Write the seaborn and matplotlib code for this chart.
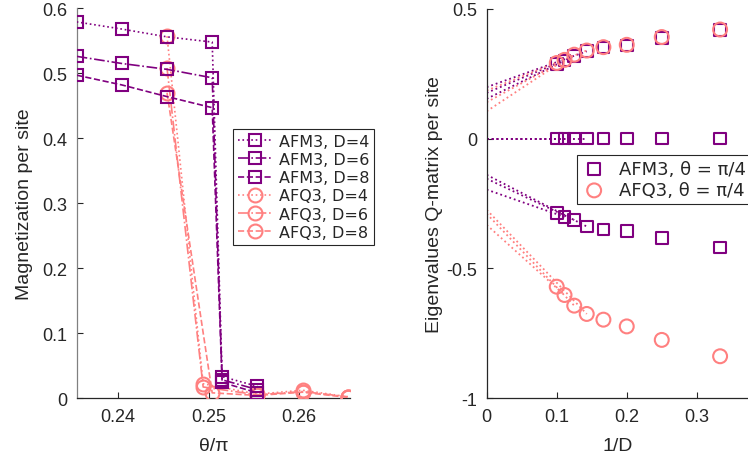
import matplotlib
matplotlib.use('Agg')
import matplotlib.pyplot as plt
import seaborn as sns

# ---- data ----
# left panel: magnetization vs theta/pi
theta_afm3 = [0.2354, 0.2404, 0.2454, 0.2504, 0.2515, 0.2554]
mag_afm3_d4 = [0.579, 0.568, 0.556, 0.548, 0.033, 0.018]
mag_afm3_d6 = [0.526, 0.515, 0.506, 0.493, 0.028, 0.013]
mag_afm3_d8 = [0.497, 0.482, 0.464, 0.447, 0.024, 0.008]

theta_afq3_d4 = [0.2454, 0.2494, 0.2554, 0.2604, 0.2654]
theta_afq3_d6 = [0.2454, 0.2494, 0.2554, 0.2604, 0.2654]
theta_afq3_d8 = [0.2454, 0.2504, 0.2554, 0.2604, 0.2654]
mag_afq3_d4 = [0.557, 0.022, 0.006, 0.012, 0.002]
mag_afq3_d6 = [0.508, 0.017, 0.005, 0.010, 0.002]
mag_afq3_d8 = [0.470, 0.008, 0.004, 0.009, 0.001]

# right panel: Q-matrix eigenvalues vs 1/D
bond_dims = [10, 9, 8, 7, 6, 5, 4, 3]
inv_d = [1 / d for d in bond_dims]
afm3_top = [0.287, 0.300, 0.318, 0.336, 0.350, 0.359, 0.388, 0.418]
afm3_mid = [0.0, 0.0, 0.0, 0.0, 0.0, 0.0, 0.0, 0.0]
afm3_bot = [-0.287, -0.302, -0.314, -0.339, -0.351, -0.357, -0.384, -0.420]
afq3_top = [0.291, 0.303, 0.323, 0.339, 0.352, 0.361, 0.391, 0.420]
afq3_bot = [-0.571, -0.603, -0.644, -0.676, -0.698, -0.724, -0.776, -0.839]

# linear extrapolations: value at 1/D = 0, and largest D-index used in fit
fit_end_idx = [3, 2, 1]
afm3_top_fit0 = [0.198, 0.176, 0.153]
afm3_mid_fit0 = [0.0, 0.0, 0.0]
afm3_bot_fit0 = [-0.140, -0.155, -0.197]
afq3_top_fit0 = [0.185, 0.140, 0.105]
afq3_bot_fit0 = [-0.275, -0.290, -0.333]

mag_ticks = [0, 0.1, 0.2, 0.3, 0.4, 0.5, 0.6]
mag_ticklabels = ['0', '0.1', '0.2', '0.3', '0.4', '0.5', '0.6']
theta_ticks = [0.24, 0.25, 0.26]
theta_ticklabels = ['0.24', '0.25', '0.26']
eig_ticks = [-1, -0.5, 0, 0.5]
eig_ticklabels = ['-1', '-0.5', '0', '0.5']
invd_ticks = [0, 0.1, 0.2, 0.3]
invd_ticklabels = ['0', '0.1', '0.2', '0.3']

purple = '#800080'
salmon = '#ff8080'

sns.set_theme(style='white')
plt.rcParams['font.family'] = ['Liberation Sans', 'DejaVu Sans']
plt.rcParams['axes.edgecolor'] = '#262626'
plt.rcParams['axes.linewidth'] = 0.9

fig = plt.figure(figsize=(7.48, 4.64), dpi=100)
ax1 = fig.add_axes([0.1025, 0.140, 0.366, 0.840])
ax2 = fig.add_axes([0.6507, 0.140, 0.351, 0.839])

# ---- left panel ----
afm_series = [(mag_afm3_d4, ':', 'AFM3, D=4'),
              (mag_afm3_d6, '-.', 'AFM3, D=6'),
              (mag_afm3_d8, '--', 'AFM3, D=8')]
afq_series = [(theta_afq3_d4, mag_afq3_d4, ':', 'AFQ3, D=4'),
              (theta_afq3_d6, mag_afq3_d6, '-.', 'AFQ3, D=6'),
              (theta_afq3_d8, mag_afq3_d8, '--', 'AFQ3, D=8')]

for vals, ls, lab in afm_series:
    sns.lineplot(x=theta_afm3, y=vals, ax=ax1, color=purple, linestyle=ls,
                 linewidth=1.2, marker='s', markersize=8.5,
                 markerfacecolor='none', markeredgecolor=purple,
                 markeredgewidth=1.5, label=lab, sort=False, zorder=4)
for xs, vals, ls, lab in afq_series:
    sns.lineplot(x=xs, y=vals, ax=ax1, color=salmon, linestyle=ls,
                 linewidth=1.2, marker='o', markersize=10,
                 markerfacecolor='none', markeredgecolor=salmon,
                 markeredgewidth=1.5, label=lab, sort=False, zorder=3)

ax1.set_xlim(0.2354, 0.2657)
ax1.set_ylim(0, 0.6)
ax1.set_xticks(theta_ticks)
ax1.set_xticklabels(theta_ticklabels)
ax1.set_yticks(mag_ticks)
ax1.set_yticklabels(mag_ticklabels)
ax1.set_xlabel('θ/π', fontsize=14, labelpad=9)
ax1.set_ylabel('Magnetization per site', fontsize=14, labelpad=6)
ax1.spines['top'].set_visible(False)
ax1.spines['right'].set_visible(False)
ax1.spines['left'].set_color('#808080')
ax1.tick_params(direction='in', length=4, width=0.8, labelsize=13,
                pad=7, colors='#262626', bottom=True, left=True)

leg1 = ax1.legend(loc='upper left', bbox_to_anchor=(233 / 748, 1 - 130 / 464),
                  bbox_transform=fig.transFigure, fancybox=False,
                  framealpha=1, edgecolor='#262626', borderaxespad=0,
                  prop={'family': 'DejaVu Sans', 'size': 11.5},
                  handlelength=2.2, handletextpad=0.35, labelspacing=0.2,
                  borderpad=0.3)
leg1.get_frame().set_linewidth(0.8)

# ---- right panel ----
fit_groups = [(afm3_top, afm3_top_fit0, purple),
              (afm3_mid, afm3_mid_fit0, purple),
              (afm3_bot, afm3_bot_fit0, purple),
              (afq3_top, afq3_top_fit0, salmon),
              (afq3_bot, afq3_bot_fit0, salmon)]
for vals, fit0, col in fit_groups:
    for c0, k in zip(fit0, fit_end_idx):
        sns.lineplot(x=[0, inv_d[k]], y=[c0, vals[k]], ax=ax2, color=col,
                     linestyle=':', linewidth=1.3, sort=False, zorder=2)

for i, vals in enumerate([afm3_top, afm3_mid, afm3_bot]):
    sns.scatterplot(x=inv_d, y=vals, ax=ax2, marker='s', s=70,
                    facecolor='none', edgecolor=purple, linewidth=1.5,
                    label='AFM3, θ = π/4' if i == 0 else None, zorder=3)
for i, vals in enumerate([afq3_top, afq3_bot]):
    sns.scatterplot(x=inv_d, y=vals, ax=ax2, marker='o', s=100,
                    facecolor='none', edgecolor=salmon, linewidth=1.5,
                    label='AFQ3, θ = π/4' if i == 0 else None, zorder=4)

ax2.set_xlim(0, 0.375)
ax2.set_ylim(-1, 0.5)
ax2.set_xticks(invd_ticks)
ax2.set_xticklabels(invd_ticklabels)
ax2.set_yticks(eig_ticks)
ax2.set_yticklabels(eig_ticklabels)
ax2.set_xlabel('1/D', fontsize=14, labelpad=9)
ax2.set_ylabel('Eigenvalues Q-matrix per site', fontsize=14, labelpad=2)
ax2.spines['top'].set_visible(False)
ax2.spines['right'].set_visible(False)
ax2.tick_params(direction='in', length=4, width=0.8, labelsize=13,
                pad=7, colors='#262626', bottom=True, left=True)

leg2 = ax2.legend(loc='upper left', bbox_to_anchor=(577 / 748, 1 - 156 / 464),
                  bbox_transform=fig.transFigure, fancybox=False,
                  framealpha=1, edgecolor='#262626', borderaxespad=0,
                  prop={'family': 'DejaVu Sans', 'size': 13},
                  handlelength=1.4, handletextpad=0.7, labelspacing=0.2,
                  borderpad=0.25)
leg2.get_frame().set_linewidth(0.8)

fig.savefig('out.png', dpi=100)
